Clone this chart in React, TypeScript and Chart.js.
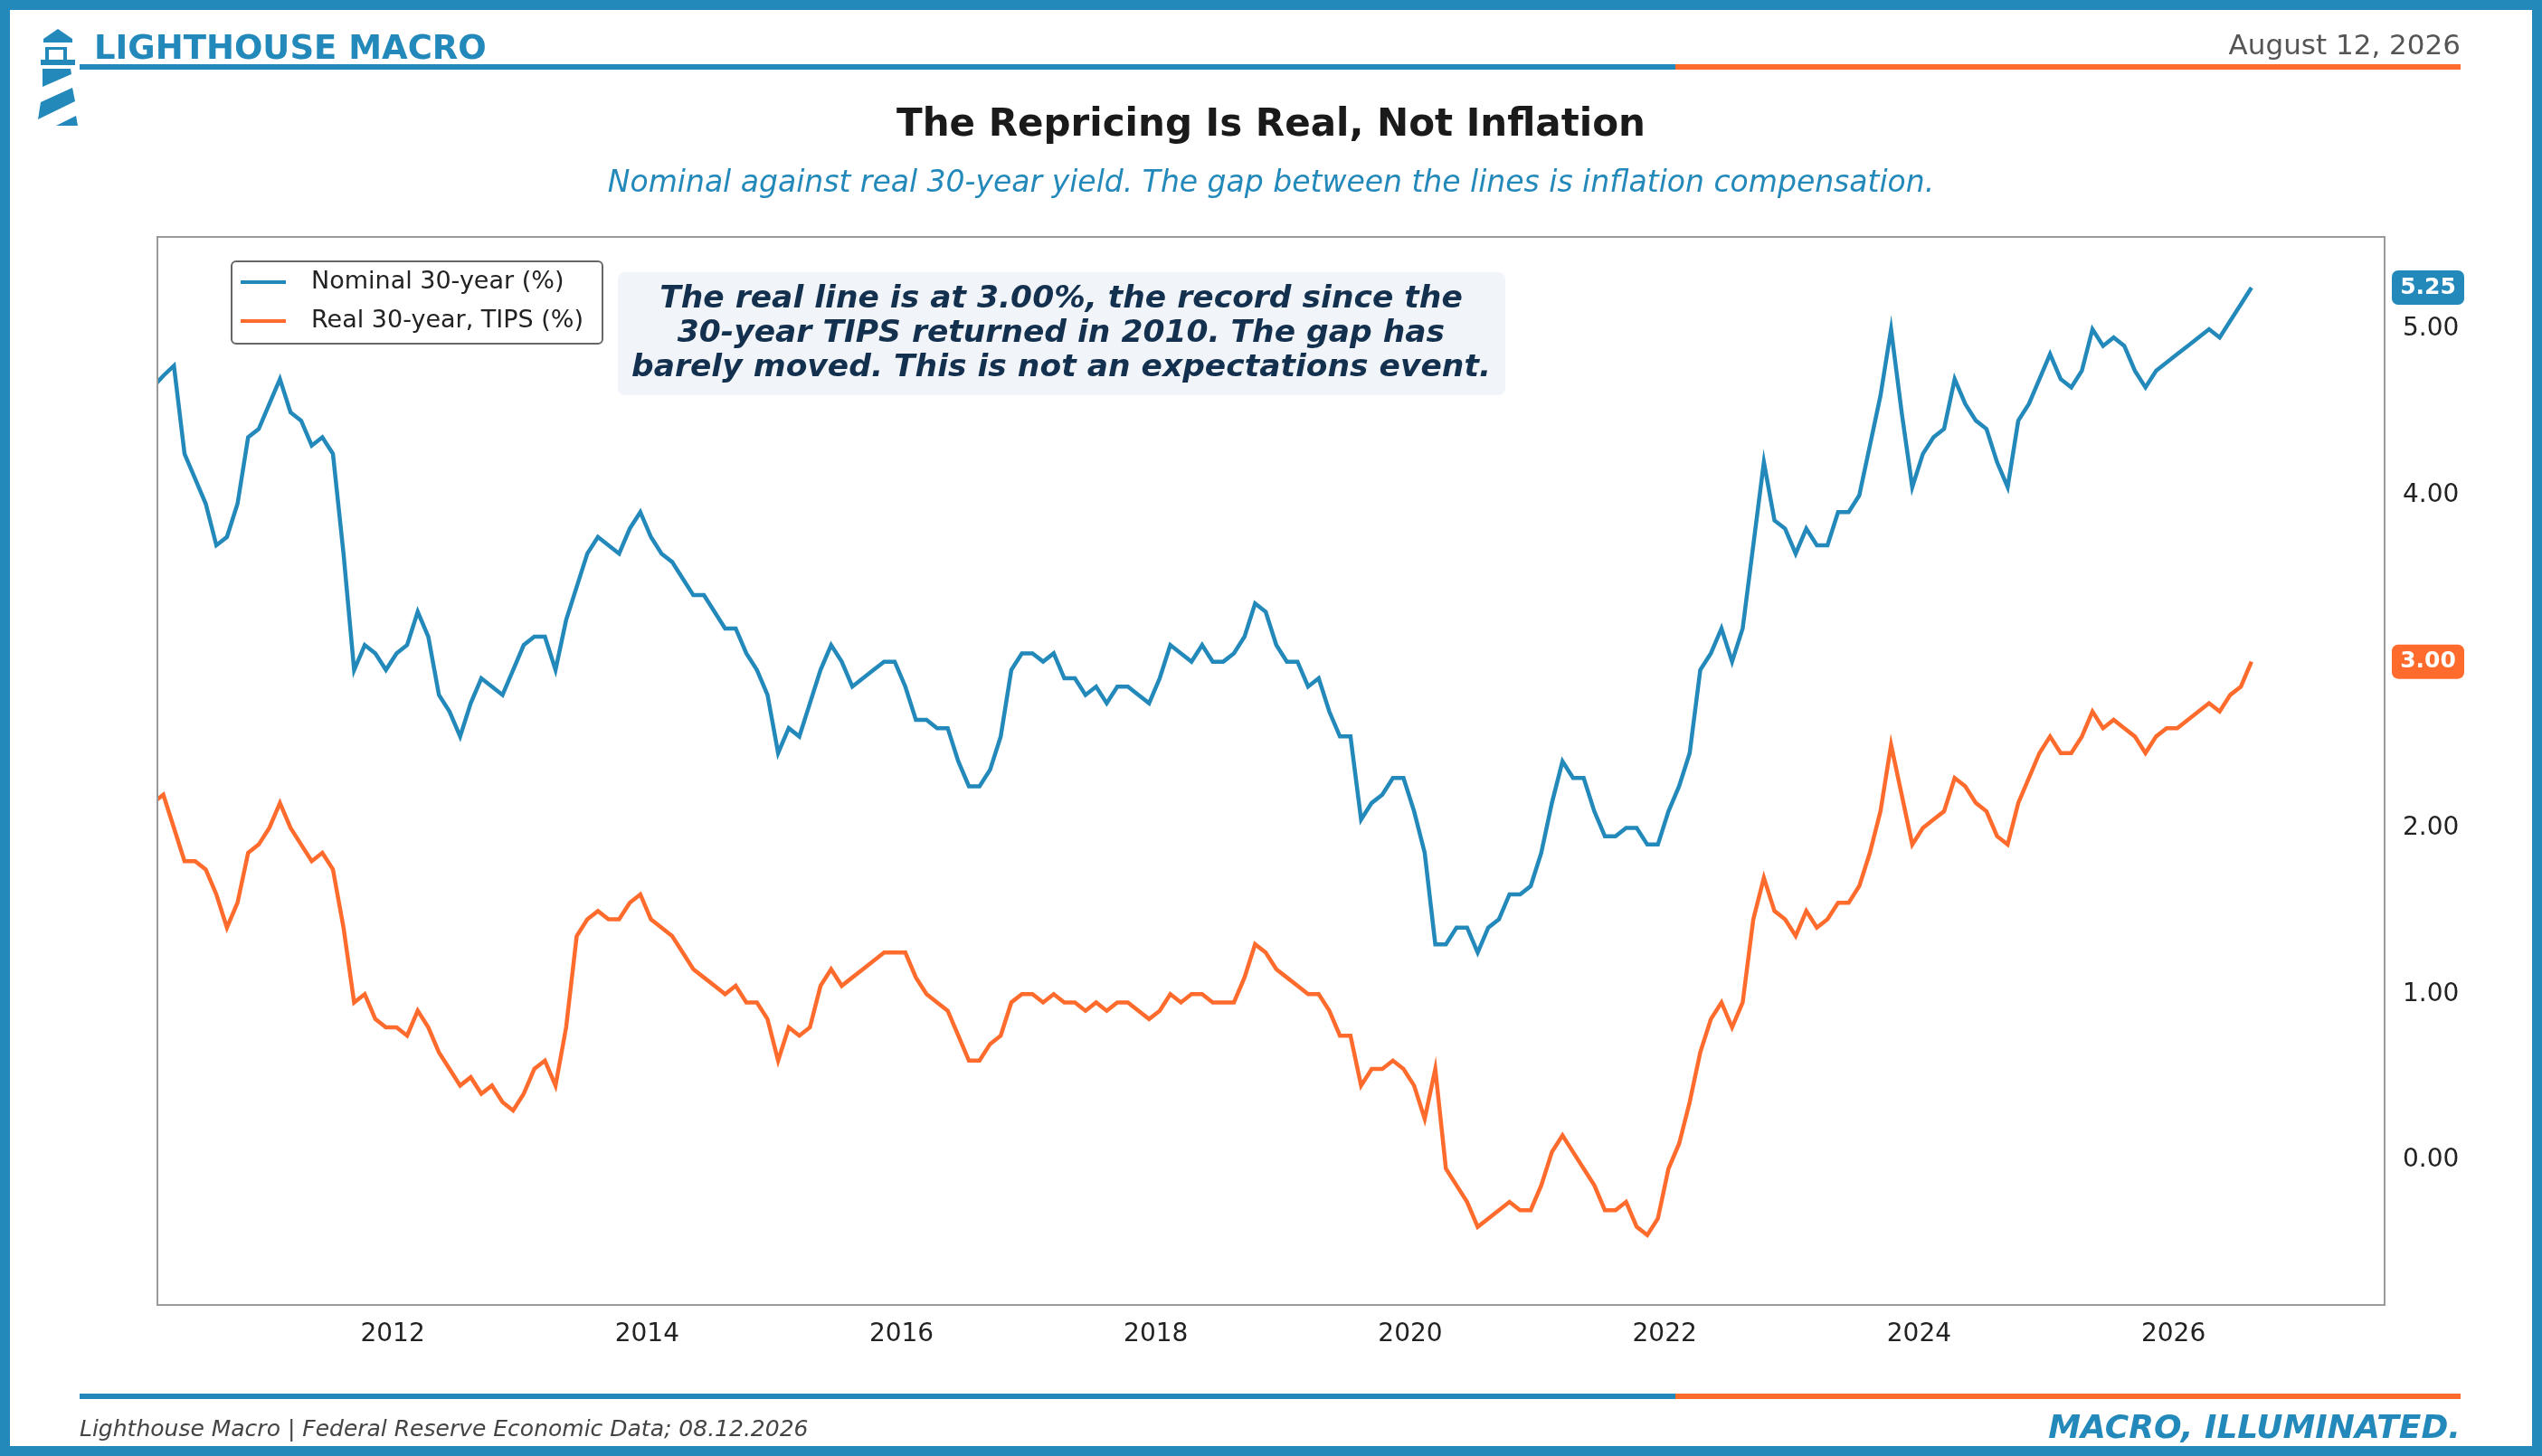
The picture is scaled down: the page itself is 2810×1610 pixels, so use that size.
import React, { useEffect, useRef } from "react";
import { Chart, registerables } from "chart.js";
Chart.register(...registerables);

const START_YEAR = 2010;
const START_MONTH = 2; // Feb 2010, monthly through Aug 2026
const nominal: number[] = [
  4.65,4.72,4.78,4.25,4.10,3.95,3.70,3.75,3.95,4.35,4.40,
  4.55,4.70,4.50,4.45,4.30,4.35,4.25,3.65,2.95,3.10,3.05,2.95,
  3.05,3.10,3.30,3.15,2.80,2.70,2.55,2.75,2.90,2.85,2.80,2.95,
  3.10,3.15,3.15,2.95,3.25,3.45,3.65,3.75,3.70,3.65,3.80,3.90,
  3.75,3.65,3.60,3.50,3.40,3.40,3.30,3.20,3.20,3.05,2.95,2.80,
  2.45,2.60,2.55,2.75,2.95,3.10,3.00,2.85,2.90,2.95,3.00,3.00,
  2.85,2.65,2.65,2.60,2.60,2.40,2.25,2.25,2.35,2.55,2.95,3.05,
  3.05,3.00,3.05,2.90,2.90,2.80,2.85,2.75,2.85,2.85,2.80,2.75,
  2.90,3.10,3.05,3.00,3.10,3.00,3.00,3.05,3.15,3.35,3.30,3.10,
  3.00,3.00,2.85,2.90,2.70,2.55,2.55,2.05,2.15,2.20,2.30,2.30,
  2.10,1.85,1.30,1.30,1.40,1.40,1.25,1.40,1.45,1.60,1.60,1.65,
  1.85,2.15,2.40,2.30,2.30,2.10,1.95,1.95,2.00,2.00,1.90,1.90,
  2.10,2.25,2.45,2.95,3.05,3.20,3.00,3.20,3.70,4.20,3.85,3.80,
  3.65,3.80,3.70,3.70,3.90,3.90,4.00,4.30,4.60,5.00,4.50,4.05,
  4.25,4.35,4.40,4.70,4.55,4.45,4.40,4.20,4.05,4.45,4.55,4.70,
  4.85,4.70,4.65,4.75,5.00,4.90,4.95,4.90,4.75,4.65,4.75,4.80,
  4.85,4.90,4.95,5.00,4.95,5.05,5.15,5.25,
];
const real: number[] = [
  2.15,2.20,2.00,1.80,1.80,1.75,1.60,1.40,1.55,1.85,1.90,
  2.00,2.15,2.00,1.90,1.80,1.85,1.75,1.40,0.95,1.00,0.85,0.80,
  0.80,0.75,0.90,0.80,0.65,0.55,0.45,0.50,0.40,0.45,0.35,0.30,
  0.40,0.55,0.60,0.45,0.80,1.35,1.45,1.50,1.45,1.45,1.55,1.60,
  1.45,1.40,1.35,1.25,1.15,1.10,1.05,1.00,1.05,0.95,0.95,0.85,
  0.60,0.80,0.75,0.80,1.05,1.15,1.05,1.10,1.15,1.20,1.25,1.25,
  1.25,1.10,1.00,0.95,0.90,0.75,0.60,0.60,0.70,0.75,0.95,1.00,
  1.00,0.95,1.00,0.95,0.95,0.90,0.95,0.90,0.95,0.95,0.90,0.85,
  0.90,1.00,0.95,1.00,1.00,0.95,0.95,0.95,1.10,1.30,1.25,1.15,
  1.10,1.05,1.00,1.00,0.90,0.75,0.75,0.45,0.55,0.55,0.60,0.55,
  0.45,0.25,0.55,-0.05,-0.15,-0.25,-0.40,-0.35,-0.30,-0.25,-0.30,-0.30,
  -0.15,0.05,0.15,0.05,-0.05,-0.15,-0.30,-0.30,-0.25,-0.40,-0.45,-0.35,
  -0.05,0.10,0.35,0.65,0.85,0.95,0.80,0.95,1.45,1.70,1.50,1.45,
  1.35,1.50,1.40,1.45,1.55,1.55,1.65,1.85,2.10,2.50,2.20,1.90,
  2.00,2.05,2.10,2.30,2.25,2.15,2.10,1.95,1.90,2.15,2.30,2.45,
  2.55,2.45,2.45,2.55,2.70,2.60,2.65,2.60,2.55,2.45,2.55,2.60,
  2.60,2.65,2.70,2.75,2.70,2.80,2.85,3.00,
];
const xTicks = [2012, 2014, 2016, 2018, 2020, 2022, 2024, 2026];
const yTicks = [0, 1, 2, 3, 4, 5];
const seriesLabels = ["Nominal 30-year (%)", "Real 30-year, TIPS (%)"];
const annotationLines = [
  "The real line is at 3.00%, the record since the",
  "30-year TIPS returned in 2010. The gap has",
  "barely moved. This is not an expectations event.",
];

const BLUE = "#2389BA";
const ORANGE = "#FF6B2C";
const W = 2810, H = 1610;
const FONT = "'DejaVu Sans', sans-serif";

const toPoints = (arr: number[]) =>
  arr.map((v, i) => ({ x: START_YEAR + (START_MONTH - 1 + i) / 12 + 0.03, y: v }));

function roundRect(ctx: CanvasRenderingContext2D, x: number, y: number, w: number, h: number, r: number) {
  ctx.beginPath();
  ctx.moveTo(x + r, y);
  ctx.arcTo(x + w, y, x + w, y + h, r);
  ctx.arcTo(x + w, y + h, x, y + h, r);
  ctx.arcTo(x, y + h, x, y, r);
  ctx.arcTo(x, y, x + w, y, r);
  ctx.closePath();
}

function poly(ctx: CanvasRenderingContext2D, pts: number[][]) {
  ctx.beginPath();
  pts.forEach(([x, y], i) => (i ? ctx.lineTo(x, y) : ctx.moveTo(x, y)));
  ctx.closePath();
  ctx.fill();
}

const decor = {
  id: "decor",
  beforeDraw(chart: any) {
    const ctx = chart.ctx as CanvasRenderingContext2D;
    ctx.save();
    ctx.fillStyle = "#fff";
    ctx.fillRect(0, 0, W, H);
    ctx.strokeStyle = BLUE;
    ctx.lineWidth = 11;
    ctx.strokeRect(5.5, 5.5, W - 11, H - 11);
    // logo
    ctx.fillStyle = BLUE;
    poly(ctx, [[48, 43], [64, 32], [80, 43], [80, 47], [48, 47]]);
    ctx.fillRect(50, 52, 4, 16); ctx.fillRect(70, 52, 4, 16); ctx.fillRect(52, 52, 20, 3);
    ctx.fillRect(45, 66, 38, 6);
    poly(ctx, [[47, 76], [78, 76], [79, 82], [47, 96]]);
    poly(ctx, [[80, 97], [83, 112], [42, 132], [45, 113]]);
    poly(ctx, [[84, 128], [86, 139], [62, 139]]);
    // header
    ctx.font = `bold 37px ${FONT}`;
    ctx.textBaseline = "alphabetic";
    ctx.textAlign = "left";
    ctx.fillText("LIGHTHOUSE MACRO", 104, 65);
    ctx.fillStyle = "#555";
    ctx.font = `31px ${FONT}`;
    ctx.textAlign = "right";
    ctx.fillText("August 12, 2026", 2720, 60);
    ctx.fillStyle = BLUE; ctx.fillRect(88, 71, 1764, 6);
    ctx.fillStyle = ORANGE; ctx.fillRect(1852, 71, 868, 6);
    // title
    ctx.textAlign = "center";
    ctx.fillStyle = "#1a1a1a";
    ctx.font = `bold 42px ${FONT}`;
    ctx.fillText("The Repricing Is Real, Not Inflation", 1405, 150);
    ctx.fillStyle = BLUE;
    ctx.font = `italic 33px ${FONT}`;
    ctx.fillText("Nominal against real 30-year yield. The gap between the lines is inflation compensation.", 1405, 212);
    // footer
    ctx.fillStyle = BLUE; ctx.fillRect(88, 1541, 1764, 6);
    ctx.fillStyle = ORANGE; ctx.fillRect(1852, 1541, 868, 6);
    ctx.textAlign = "left";
    ctx.fillStyle = "#444";
    ctx.font = `italic 25px ${FONT}`;
    ctx.fillText("Lighthouse Macro | Federal Reserve Economic Data; 08.12.2026", 88, 1588);
    ctx.textAlign = "right";
    ctx.fillStyle = BLUE;
    ctx.font = `bold italic 36px ${FONT}`;
    ctx.fillText("MACRO, ILLUMINATED.", 2720, 1590);
    ctx.restore();
  },
  afterDraw(chart: any) {
    const ctx = chart.ctx as CanvasRenderingContext2D;
    const a = chart.chartArea;
    const ys = chart.scales.y;
    ctx.save();
    ctx.strokeStyle = "#9a9a9a";
    ctx.lineWidth = 2;
    ctx.strokeRect(a.left, a.top, a.right - a.left, a.bottom - a.top);
    const tags = [
      { v: nominal[nominal.length - 1], c: BLUE },
      { v: real[real.length - 1], c: ORANGE },
    ];
    ctx.font = `bold 25px ${FONT}`;
    ctx.textAlign = "center";
    ctx.textBaseline = "middle";
    for (const t of tags) {
      const py = ys.getPixelForValue(t.v);
      const bx = a.right + 8;
      ctx.fillStyle = t.c;
      roundRect(ctx, bx, py - 19, 80, 38, 7);
      ctx.fill();
      ctx.fillStyle = "#fff";
      ctx.fillText(t.v.toFixed(2), bx + 40, py);
    }
    // legend
    const lx = a.left + 82, ly = a.top + 27;
    ctx.fillStyle = "rgba(255,255,255,0.9)";
    roundRect(ctx, lx, ly, 410, 91, 5);
    ctx.fill();
    ctx.strokeStyle = "#666";
    ctx.lineWidth = 2;
    ctx.stroke();
    ctx.font = `27px ${FONT}`;
    ctx.textAlign = "left";
    const cols = [BLUE, ORANGE];
    seriesLabels.forEach((lab, i) => {
      const yy = ly + 23 + i * 43;
      ctx.strokeStyle = cols[i];
      ctx.lineWidth = 4;
      ctx.beginPath(); ctx.moveTo(lx + 10, yy); ctx.lineTo(lx + 60, yy); ctx.stroke();
      ctx.fillStyle = "#222";
      ctx.fillText(lab, lx + 88, yy);
    });
    // annotation
    const bx0 = 683, by0 = 301;
    ctx.fillStyle = "#F1F5F9";
    roundRect(ctx, bx0, by0, 981, 136, 8);
    ctx.fill();
    ctx.fillStyle = "#14304F";
    ctx.font = `bold italic 34.5px ${FONT}`;
    ctx.textAlign = "center";
    annotationLines.forEach((l, i) => ctx.fillText(l, bx0 + 490, by0 + 30 + i * 38));
    ctx.restore();
  },
};

export default function App() {
  const ref = useRef<HTMLCanvasElement>(null);
  useEffect(() => {
    const chart = new Chart(ref.current!, {
      type: "line",
      data: {
        datasets: [
          { label: seriesLabels[0], data: toPoints(nominal), borderColor: BLUE, borderWidth: 4.5, pointRadius: 0, tension: 0 },
          { label: seriesLabels[1], data: toPoints(real), borderColor: ORANGE, borderWidth: 4.5, pointRadius: 0, tension: 0 },
        ],
      },
      options: {
        animation: false,
        responsive: false,
        devicePixelRatio: 1,
        layout: { padding: { left: 174, top: 262, right: 0, bottom: 0 } },
        plugins: { legend: { display: false }, tooltip: { enabled: false } },
        scales: {
          x: {
            type: "linear",
            min: 2010.15,
            max: 2027.66,
            grid: { display: false },
            border: { display: false },
            afterBuildTicks: (s: any) => { s.ticks = xTicks.map((v) => ({ value: v })); },
            afterFit: (s: any) => { s.height = H - 1443; },
            ticks: { color: "#222", font: { size: 28, family: FONT }, padding: 8, maxRotation: 0, callback: (v: any) => String(v) },
          },
          y: {
            position: "right",
            min: -0.87,
            max: 5.555,
            grid: { display: false },
            border: { display: false },
            afterBuildTicks: (s: any) => { s.ticks = yTicks.map((v) => ({ value: v })); },
            afterFit: (s: any) => { s.width = W - 2636; },
            ticks: { color: "#222", font: { size: 28, family: FONT }, padding: 12, callback: (v: any) => Number(v).toFixed(2) },
          },
        },
      },
      plugins: [decor],
    } as any);
    return () => chart.destroy();
  }, []);
  return (
    <canvas ref={ref} width={W} height={H} style={{ position: "fixed", left: 0, top: 0, width: W, height: H }} />
  );
}
